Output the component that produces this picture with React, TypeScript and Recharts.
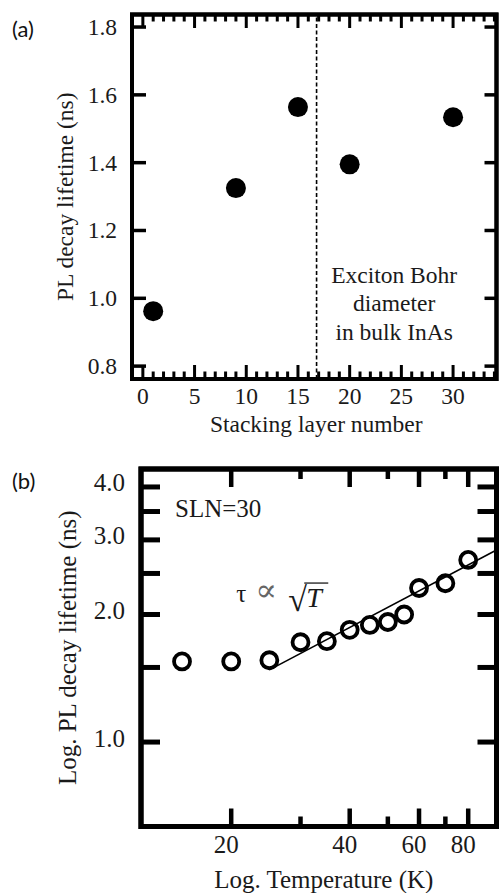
import React from "react";
import {
  ScatterChart,
  Scatter,
  XAxis,
  YAxis,
  ReferenceLine,
  ReferenceArea,
  ReferenceDot,
} from "recharts";

const SERIF = "Liberation Serif, DejaVu Serif, Times New Roman, serif";
const SANS = "Lato, Open Sans, sans-serif";

// (a) lifetime vs stacking layer number
const layerNumbers = [1, 9, 15, 20, 30];
const layerLifetimes = [0.962, 1.325, 1.564, 1.395, 1.534];
const layerTicks = [
  0, 1, 2, 3, 4, 5, 6, 7, 8, 9, 10, 11, 12, 13, 14, 15, 16, 17, 18, 19, 20, 21, 22, 23, 24, 25, 26, 27, 28,
  29, 30, 31, 32, 33, 34,
];
const layerMajor = [0, 5, 10, 15, 20, 25, 30];
const lifetimeTicksA = [0.8, 1.0, 1.2, 1.4, 1.6, 1.8];
const bohrLayer = 16.8;

// (b) lifetime vs temperature, SLN=30
const temperatures = [15, 20, 25, 30, 35, 40, 45, 50, 55, 60, 70, 80];
const tempLifetimes = [1.55, 1.55, 1.56, 1.72, 1.73, 1.84, 1.89, 1.92, 2.0, 2.31, 2.37, 2.69];
const fitTemperatures = [25, 94.4];
const fitLifetimes = [1.48, 2.84];
const tempTicks = [20, 30, 40, 50, 60, 70, 80];
const tempLabels = [20, 40, 60, 80];
const lifetimeTicksB = [1.0, 1.5, 2.0, 2.5, 3.0, 3.5, 4.0];
const lifetimeLabelsB = [1.0, 2.0, 3.0, 4.0];

const dataA = layerNumbers.map((n, i) => ({ layer: n, lifetime: layerLifetimes[i] }));
const dataB = temperatures.map((t, i) => ({ temp: t, lifetime: tempLifetimes[i] }));
const fitB = fitTemperatures.map((t, i) => ({ temp: t, lifetime: fitLifetimes[i] }));

const X_A: [number, number] = [-1.05, 34.2];
const Y_A: [number, number] = [0.762, 1.837];
const X_B: [number, number] = [11.8, 94.4];
const Y_B: [number, number] = [0.632, 4.41];

const W = 499;
const H_A = 445;
const H_B = 448;
const MARGIN_A = { top: 14.5, right: 2.5, bottom: 0, left: 0 };
const MARGIN_B = { top: 24, right: 2.5, bottom: 0, left: 0 };
const YW_A = 132;
const XH_A = 66;
const YW_B = 141;
const XH_B = 66.5;

// plot boxes, same as what recharts lays out from the margins/axis sizes above
const boxA = { l: YW_A, r: W - MARGIN_A.right, t: MARGIN_A.top, b: H_A - XH_A };
const boxB = { l: YW_B, r: W - MARGIN_B.right, t: MARGIN_B.top, b: H_B - XH_B };

const toXA = (v: number) => boxA.l + ((v - X_A[0]) / (X_A[1] - X_A[0])) * (boxA.r - boxA.l);
const toYA = (v: number) => boxA.b - ((v - Y_A[0]) / (Y_A[1] - Y_A[0])) * (boxA.b - boxA.t);
const toXB = (v: number) =>
  boxB.l + (Math.log10(v / X_B[0]) / Math.log10(X_B[1] / X_B[0])) * (boxB.r - boxB.l);
const toYB = (v: number) =>
  boxB.b - (Math.log10(v / Y_B[0]) / Math.log10(Y_B[1] / Y_B[0])) * (boxB.b - boxB.t);

const majA = (v: number) => layerMajor.includes(v);
const majB = (v: number) => tempLabels.includes(v);

type TickOpts = {
  side: "bottom" | "left";
  gap: number;
  size: (v: number) => number;
  text?: (v: number) => string | null;
  font?: number;
  width: number;
  dx?: number;
  dy?: number;
};

// inward tick marks, label drawn outside the frame
const axisTick = (o: TickOpts) => (props: any) => {
  const { x, y, payload } = props;
  const v = payload.value;
  const len = o.size(v);
  const bottom = o.side === "bottom";
  const main = bottom
    ? { x1: x, y1: y - o.gap, x2: x, y2: y - o.gap - len }
    : { x1: x + o.gap, y1: y, x2: x + o.gap + len, y2: y };
  const label = o.text ? o.text(v) : null;
  return (
    <g>
      <line {...main} stroke="#000" strokeWidth={o.width} />
      {label && (
        <text
          x={x + (o.dx || 0)}
          y={y + (o.dy || 0)}
          textAnchor={bottom ? "middle" : "end"}
          dominantBaseline="central"
          style={{ fontFamily: SERIF, fontSize: o.font }}
          fill="#1a1a1a"
        >
          {label}
        </text>
      )}
    </g>
  );
};

const xTitle = (text: string, dy: number, font: number, dx = 0) => (p: any) => {
  const vb = p.viewBox;
  return (
    <text
      x={vb.x + vb.width / 2 + dx}
      y={vb.y + dy}
      textAnchor="middle"
      dominantBaseline="central"
      style={{ fontFamily: SERIF, fontSize: font }}
      fill="#1a1a1a"
    >
      {text}
    </text>
  );
};

const yTitle = (text: string, cx: number, font: number) => (p: any) => {
  const vb = p.viewBox;
  const cy = vb.y + vb.height / 2;
  return (
    <text
      transform={`translate(${vb.x + cx}, ${cy}) rotate(-90)`}
      textAnchor="middle"
      dominantBaseline="central"
      style={{ fontFamily: SERIF, fontSize: font }}
      fill="#1a1a1a"
    >
      {text}
    </text>
  );
};

const fmt1 = (v: number) => v.toFixed(1);
const noMark = () => <g />;

// frame with the top and right ticks (mirror of the bottom/left axes)
const FrameA = () => (
  <svg
    width={W}
    height={H_A}
    style={{ position: "absolute", left: 0, top: 0, zIndex: 5, pointerEvents: "none", overflow: "visible" }}
  >
    <rect x={boxA.l} y={boxA.t} width={boxA.r - boxA.l} height={boxA.b - boxA.t} fill="none" stroke="#000" strokeWidth={4} />
    {layerTicks.map((v) => (
      <line
        key={`t${v}`}
        x1={toXA(v)}
        y1={boxA.t}
        x2={toXA(v)}
        y2={boxA.t + (majA(v) ? 13.5 : 7)}
        stroke="#000"
        strokeWidth={3}
      />
    ))}
    {lifetimeTicksA.map((v) => (
      <line key={`r${v}`} x1={boxA.r} y1={toYA(v)} x2={boxA.r - 12} y2={toYA(v)} stroke="#000" strokeWidth={3.5} />
    ))}
  </svg>
);

const FrameB = () => (
  <svg
    width={W}
    height={H_B}
    style={{ position: "absolute", left: 0, top: 0, zIndex: 5, pointerEvents: "none", overflow: "visible" }}
  >
    <rect x={boxB.l} y={boxB.t} width={boxB.r - boxB.l} height={boxB.b - boxB.t} fill="none" stroke="#000" strokeWidth={5} />
    {tempTicks.map((v) => (
      <line
        key={`t${v}`}
        x1={toXB(v)}
        y1={boxB.t}
        x2={toXB(v)}
        y2={boxB.t + (majB(v) ? 18 : 10)}
        stroke="#000"
        strokeWidth={4.5}
      />
    ))}
    {lifetimeTicksB.map((v) => (
      <line key={`r${v}`} x1={boxB.r} y1={toYB(v)} x2={boxB.r - 19} y2={toYB(v)} stroke="#000" strokeWidth={5} />
    ))}
  </svg>
);

const PanelA = () => (
  <ScatterChart width={W} height={H_A} margin={MARGIN_A}>
    <XAxis
      dataKey="layer"
      type="number"
      domain={X_A}
      allowDataOverflow
      ticks={layerTicks}
      interval={0}
      axisLine={false}
      tickSize={0}
      tickMargin={17}
      height={XH_A}
      tick={axisTick({
        side: "bottom",
        gap: 17,
        size: (v) => (majA(v) ? 14 : 7.5),
        text: (v) => (majA(v) ? String(v) : null),
        font: 23.5,
        width: 3,
      })}
      label={{ content: xTitle("Stacking layer number", 45, 23.5, 2) }}
    />
    <YAxis
      dataKey="lifetime"
      type="number"
      domain={Y_A}
      allowDataOverflow
      ticks={lifetimeTicksA}
      interval={0}
      axisLine={false}
      tickSize={0}
      tickMargin={15}
      width={YW_A}
      tick={axisTick({ side: "left", gap: 15, size: () => 14, text: fmt1, font: 23.5, width: 3.5 })}
      label={{ content: yTitle("PL decay lifetime (ns)", 65, 23.5) }}
    />
    <ReferenceLine x={bohrLayer} stroke="#000" strokeWidth={1.6} strokeDasharray="4 2.5" />
    <ReferenceDot
      x={24.3}
      y={0.962}
      r={0}
      fill="none"
      stroke="none"
      label={{
        content: (p: any) => {
          const cx = p.viewBox.x;
          const cy = p.viewBox.y;
          return (
            <text textAnchor="middle" style={{ fontFamily: SERIF, fontSize: 23.5 }} fill="#1a1a1a">
              <tspan x={cx} y={cy - 28.5}>Exciton Bohr</tspan>
              <tspan x={cx} y={cy}>diameter</tspan>
              <tspan x={cx} y={cy + 28.5}>in bulk InAs</tspan>
            </text>
          );
        },
      }}
    />
    <Scatter
      data={dataA}
      isAnimationActive={false}
      shape={(p: any) => <circle cx={p.cx} cy={p.cy} r={10} fill="#000" />}
    />
    <ReferenceArea
      x1={X_A[0]}
      x2={X_A[1]}
      y1={Y_A[0]}
      y2={Y_A[1]}
      fill="none"
      stroke="#000"
      strokeWidth={4}
      ifOverflow="visible"
    />
  </ScatterChart>
);

const PanelB = () => (
  <ScatterChart width={W} height={H_B} margin={MARGIN_B}>
    <XAxis
      dataKey="temp"
      type="number"
      scale="log"
      domain={X_B}
      allowDataOverflow
      ticks={tempTicks}
      interval={0}
      axisLine={false}
      tickSize={0}
      tickMargin={17.5}
      height={XH_B}
      tick={axisTick({
        side: "bottom",
        gap: 17.5,
        size: (v) => (majB(v) ? 18 : 10),
        text: (v) => (majB(v) ? String(v) : null),
        font: 25,
        width: 4.5,
        dx: -5,
      })}
      label={{ content: xTitle("Log. Temperature (K)", 52.5, 25, 5) }}
    />
    <YAxis
      dataKey="lifetime"
      type="number"
      scale="log"
      domain={Y_B}
      allowDataOverflow
      ticks={lifetimeTicksB}
      interval={0}
      axisLine={false}
      tickSize={0}
      tickMargin={16}
      width={YW_B}
      tick={axisTick({
        side: "left",
        gap: 16,
        size: () => 19,
        text: (v) => (lifetimeLabelsB.includes(v) ? fmt1(v) : null),
        font: 25,
        width: 5,
        dy: -4,
      })}
      label={{ content: yTitle("Log. PL decay lifetime (ns)", 67, 25) }}
    />
    <ReferenceDot
      x={14.4}
      y={3.4}
      r={0}
      fill="none"
      stroke="none"
      label={{
        content: (p: any) => (
          <text x={p.viewBox.x} y={p.viewBox.y} style={{ fontFamily: SERIF, fontSize: 25 }} fill="#1a1a1a">
            SLN=30
          </text>
        ),
      }}
    />
    <ReferenceDot
      x={20.6}
      y={2.14}
      r={0}
      fill="none"
      stroke="none"
      label={{
        content: (p: any) => {
          const x = p.viewBox.x;
          const y = p.viewBox.y;
          return (
            <g style={{ fontFamily: SERIF }} fill="#1a1a1a">
              <text x={x} y={y} style={{ fontSize: 25 }}>
                τ
              </text>
              <text x={x + 19} y={y - 1} style={{ fontSize: 32 }} fill="#666">
                ∝
              </text>
              <text x={x + 52} y={y + 9} style={{ fontSize: 34 }}>
                √
              </text>
              <text x={x + 70} y={y + 5} style={{ fontSize: 28, fontStyle: "italic" }}>
                T
              </text>
              <line x1={x + 68} y1={y - 19} x2={x + 92} y2={y - 19} stroke="#1a1a1a" strokeWidth={1.3} />
            </g>
          );
        },
      }}
    />
    <Scatter
      data={fitB}
      isAnimationActive={false}
      line={{ stroke: "#000", strokeWidth: 1.6 }}
      shape={noMark}
    />
    <Scatter
      data={dataB}
      isAnimationActive={false}
      shape={(p: any) => <circle cx={p.cx} cy={p.cy} r={8} fill="none" stroke="#000" strokeWidth={3.8} />}
    />
    <ReferenceArea
      x1={X_B[0]}
      x2={X_B[1]}
      y1={Y_B[0]}
      y2={Y_B[1]}
      fill="none"
      stroke="#000"
      strokeWidth={5}
      ifOverflow="visible"
    />
  </ScatterChart>
);

export default function App() {
  return (
    <div style={{ position: "absolute", left: 0, top: 0, width: W, height: 893, background: "#fff" }}>
      <div style={{ position: "absolute", left: 0, top: 0, width: W, height: H_A }}>
        <PanelA />
        <FrameA />
      </div>
      <div style={{ position: "absolute", left: 0, top: 445, width: W, height: H_B }}>
        <PanelB />
        <FrameB />
      </div>
      <div style={{ position: "absolute", left: 12, top: 15, fontFamily: SANS, fontSize: 22, color: "#111" }}>
        (a)
      </div>
      <div style={{ position: "absolute", left: 12, top: 467, fontFamily: SANS, fontSize: 22, color: "#111" }}>
        (b)
      </div>
    </div>
  );
}
